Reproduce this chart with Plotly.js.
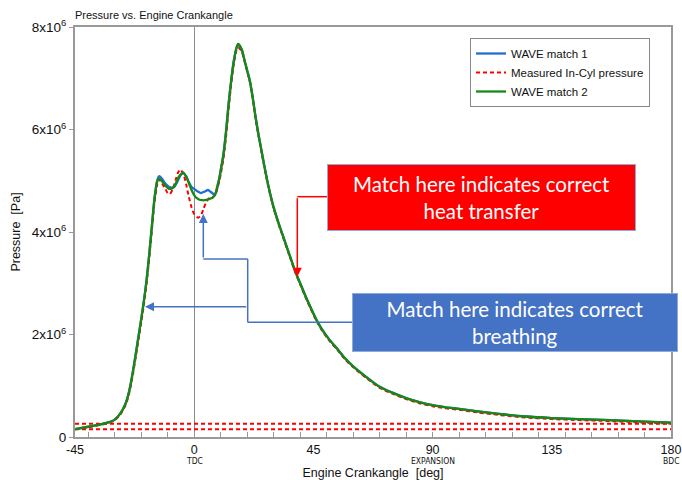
<!DOCTYPE html>
<html>
<head>
<meta charset="utf-8">
<script src="https://cdn.plot.ly/plotly-3.0.1.min.js"></script>
<style>
  html, body { margin: 0; padding: 0; background: #fff; }
  #chart { width: 682px; height: 480px; }
</style>
</head>
<body>
<div id="chart"></div>
<script>
// ---- Data (crank angle in deg, pressure in MPa) ----
const angleMain = [-45,-40,-35,-32,-30,-28,-26,-25,-24,-23,-22,-21,-20,-19,-18,-17,-16,-15];
const pMain     = [0.155,0.2,0.25,0.29,0.34,0.45,0.64,0.8,1.03,1.32,1.64,1.97,2.3,2.65,3.05,3.55,4.1,4.65];
const pMainMeas = [0.15,0.19,0.24,0.28,0.33,0.43,0.61,0.76,0.98,1.26,1.58,1.91,2.23,2.58,2.98,3.48,4.03,4.58];

const angleMid1 = [-14,-13.2,-12,-11,-10,-9,-8,-7.5,-6,-5,-4.2,-3,-2,-1,0,1,2.5,4,5.2,6.3,7.8,8.7,9.5];
const pMid1     = [5.0,5.09,5.03,4.95,4.9,4.87,4.87,4.88,5.02,5.12,5.16,5.08,4.97,4.88,4.84,4.8,4.76,4.79,4.82,4.78,4.72,4.86,5.05];

const angleMid2 = [-14,-13.3,-12,-11,-10,-9,-8,-7,-6,-5,-4.2,-3,-2,-1,0,1,2,3,4,5,6,7,8,9,9.5];
const pMid2     = [4.98,5.04,4.98,4.91,4.86,4.84,4.86,4.94,5.06,5.13,5.16,5.08,4.95,4.82,4.72,4.66,4.63,4.62,4.62,4.63,4.65,4.67,4.75,4.95,5.05];

const angleMidM = [-14,-13.5,-12.5,-11,-10,-9.2,-8,-7,-6,-5.2,-4,-3,-2,-1,0,1.5,2.5,3.5,4.5,5.9,7,8,9,9.5];
const pMidM     = [4.92,5.03,4.98,4.85,4.76,4.74,4.85,5.02,5.17,5.22,5.12,4.92,4.68,4.48,4.35,4.28,4.32,4.45,4.58,4.68,4.68,4.73,4.9,5.0];

const angleEnd = [10,11,12,13,14,15,16,16.6,18,19,20,21,22,23,24,25,26,27,28,29,30,32,34,36,38,40,42,44,46,48,51,54,57,60,65,70,75,80,85,90,95,100,107,115,125,135,145,157,170,180];
const pEnd     = [5.2,5.5,5.95,6.5,6.97,7.35,7.6,7.67,7.55,7.35,7.15,6.95,6.65,6.3,5.98,5.7,5.42,5.15,4.9,4.68,4.48,4.15,3.85,3.55,3.25,3.0,2.75,2.52,2.3,2.12,1.9,1.72,1.53,1.38,1.17,0.98,0.86,0.76,0.68,0.62,0.58,0.55,0.5,0.45,0.4,0.37,0.35,0.33,0.3,0.28];
const pEndMeas = [5.12,5.42,5.85,6.4,6.9,7.3,7.55,7.6,7.52,7.33,7.13,6.93,6.63,6.28,5.96,5.68,5.4,5.13,4.88,4.66,4.46,4.13,3.83,3.53,3.23,2.98,2.73,2.5,2.28,2.1,1.88,1.7,1.51,1.36,1.15,0.96,0.84,0.74,0.66,0.6,0.56,0.53,0.48,0.43,0.38,0.35,0.33,0.31,0.28,0.26];

const measuredLevels = [0.26, 0.15];   // MPa, the two dashed horizontal lines
const angleRange = [-45, 180];

const xTickVals = [-45, 0, 45, 90, 135, 180];
const xTickText = ['-45', '0', '45', '90', '135', '180'];
const xSubVals = [0, 90, 180];
const xSubText = ['TDC', 'EXPANSION', 'BDC'];
const yTickVals = [0, 2e6, 4e6, 6e6, 8e6];
const yTickText = ['0', '2x10<sup>6</sup>', '4x10<sup>6</sup>', '6x10<sup>6</sup>', '8x10<sup>6</sup>'];

const MPa = v => v.map(p => p * 1e6);

const wave1X = angleMain.concat(angleMid1, angleEnd);
const wave1Y = MPa(pMain.concat(pMid1, pEnd));
const wave2X = angleMain.concat(angleMid2, angleEnd);
const wave2Y = MPa(pMain.concat(pMid2, pEnd));
const measX = angleMain.concat(angleMidM, angleEnd);
const measY = MPa(pMainMeas.concat(pMidM, pEndMeas));

const levelX = [], levelY = [];
measuredLevels.forEach(l => { levelX.push(angleRange[0], angleRange[1], null); levelY.push(l * 1e6, l * 1e6, null); });

const BLUE = '#1f6fd0', RED = '#ff0000', GREEN = '#168a16';
const font = 'Liberation Sans, Arial, Helvetica, sans-serif';

const traces = [
  {x: wave1X, y: wave1Y, name: 'WAVE match 1', mode: 'lines',
   line: {color: BLUE, width: 2.3, shape: 'spline', smoothing: 0.6}},
  {x: measX, y: measY, name: 'Measured In-Cyl pressure', mode: 'lines',
   line: {color: RED, width: 2, dash: '4px,3px', shape: 'spline', smoothing: 0.6}},
  {x: levelX, y: levelY, name: 'levels', mode: 'lines', showlegend: false, hoverinfo: 'skip',
   line: {color: RED, width: 2, dash: '4px,3px'}},
  {x: wave2X, y: wave2Y, name: 'WAVE match 2', mode: 'lines',
   line: {color: GREEN, width: 2.3, shape: 'spline', smoothing: 0.6}}
];

// pixel -> data helpers for annotation placement
const L = 75, R = 671, T = 27, B = 437;
const dx = px => -45 + (px - L) * 225 / (R - L);
const dy = py => (B - py) * 8e6 / (B - T);

const ABLUE = '#4472c4';
const shapes = [
  {type: 'line', xref: 'x', yref: 'y', x0: dx(297.3), y0: dy(196.7), x1: dx(327), y1: dy(196.7), line: {color: RED, width: 1.5}},
  {type: 'line', xref: 'x', yref: 'y', x0: dx(247.7), y0: dy(322.3), x1: dx(352.7), y1: dy(322.3), line: {color: ABLUE, width: 1.5}},
  {type: 'line', xref: 'x', yref: 'y', x0: dx(247.7), y0: dy(322.3), x1: dx(247.7), y1: dy(259), line: {color: ABLUE, width: 1.5}},
  {type: 'line', xref: 'x', yref: 'y', x0: dx(247.7), y0: dy(259), x1: dx(203.3), y1: dy(259), line: {color: ABLUE, width: 1.5}}
];

const annotations = [
  {x: dx(297.3), y: dy(276.7), xref: 'x', yref: 'y', text: '', showarrow: true, ax: 0, ay: -80,
   arrowcolor: RED, arrowwidth: 1.5, arrowhead: 2, arrowsize: 1.2},
  {x: dx(203.3), y: dy(214), xref: 'x', yref: 'y', text: '', showarrow: true, ax: 0, ay: 45,
   arrowcolor: ABLUE, arrowwidth: 1.5, arrowhead: 2, arrowsize: 1.2},
  {x: dx(145), y: dy(306.7), xref: 'x', yref: 'y', text: '', showarrow: true, ax: 102.7, ay: 0,
   arrowcolor: ABLUE, arrowwidth: 1.5, arrowhead: 2, arrowsize: 1.2},
  {x: dx(481.5), y: dy(197.5), xref: 'x', yref: 'y', xanchor: 'center', yanchor: 'middle',
   text: 'Match here indicates correct<br>heat transfer', showarrow: false,
   width: 307, height: 65, bgcolor: RED, bordercolor: '#8fa9dc', borderwidth: 1, borderpad: 0,
   font: {family: 'Lato, Carlito, sans-serif', size: 20.5, color: '#ffffff'}},
  {x: dx(515), y: dy(322.5), xref: 'x', yref: 'y', xanchor: 'center', yanchor: 'middle',
   text: 'Match here indicates correct<br>breathing', showarrow: false,
   width: 324, height: 57, bgcolor: ABLUE, bordercolor: '#8fa9dc', borderwidth: 1, borderpad: 0,
   font: {family: 'Lato, Carlito, sans-serif', size: 20.5, color: '#ffffff'}}
];
// sub-labels under selected x ticks
xSubVals.forEach((v, i) => annotations.push({
  x: v, y: -(461 - B) / (B - T), xref: 'x', yref: 'paper', text: xSubText[i], showarrow: false,
  xanchor: 'center', yanchor: 'middle', borderpad: 0,
  font: {family: 'Liberation Sans Narrow, DejaVu Sans Condensed, Arial Narrow, sans-serif', size: 8.5, color: '#111'}
}));

const layout = {
  width: 682, height: 480,
  margin: {l: L, r: 682 - R, t: T, b: 480 - B},
  paper_bgcolor: '#fff', plot_bgcolor: '#fff',
  font: {family: font, size: 13, color: '#111'},
  title: {text: 'Pressure vs. Engine Crankangle', x: L / 682, xanchor: 'left',
          y: 1 - 15 / 480, yanchor: 'middle', font: {family: font, size: 11, color: '#111'}},
  showlegend: true,
  legend: {x: (470 - L) / (R - L), y: (B - 38) / (B - T), xanchor: 'left', yanchor: 'top',
           bordercolor: '#888', borderwidth: 1, bgcolor: '#fff', itemwidth: 30,
           font: {family: font, size: 11.5, color: '#111'}},
  xaxis: {range: angleRange, tickmode: 'array', tickvals: xTickVals, ticktext: xTickText,
          showgrid: false, zeroline: true, zerolinecolor: '#8a8a8a', zerolinewidth: 1,
          showline: true, linecolor: '#999', linewidth: 2, mirror: true,
          ticks: '',
          minor: {tickmode: 'linear', tick0: 0, dtick: 10, ticks: 'inside', ticklen: 5, tickcolor: '#999'},
          title: {text: 'Engine Crankangle  [deg]', font: {family: font, size: 12.5, color: '#111'}, standoff: 20},
          tickfont: {family: font, size: 12.5, color: '#111'}},
  yaxis: {range: [0, 8e6], tickmode: 'array', tickvals: yTickVals, ticktext: yTickText,
          showgrid: false, zeroline: false,
          showline: true, linecolor: '#999', linewidth: 2, mirror: true,
          ticks: 'outside', ticklen: 4, tickcolor: '#999',
          title: {text: 'Pressure  [Pa]', font: {family: font, size: 12.5, color: '#111'}, standoff: 8},
          tickfont: {family: font, size: 13.5, color: '#111'}},
  shapes: shapes,
  annotations: annotations
};

Plotly.newPlot('chart', traces, layout, {displayModeBar: false, staticPlot: true});
</script>
</body>
</html>
